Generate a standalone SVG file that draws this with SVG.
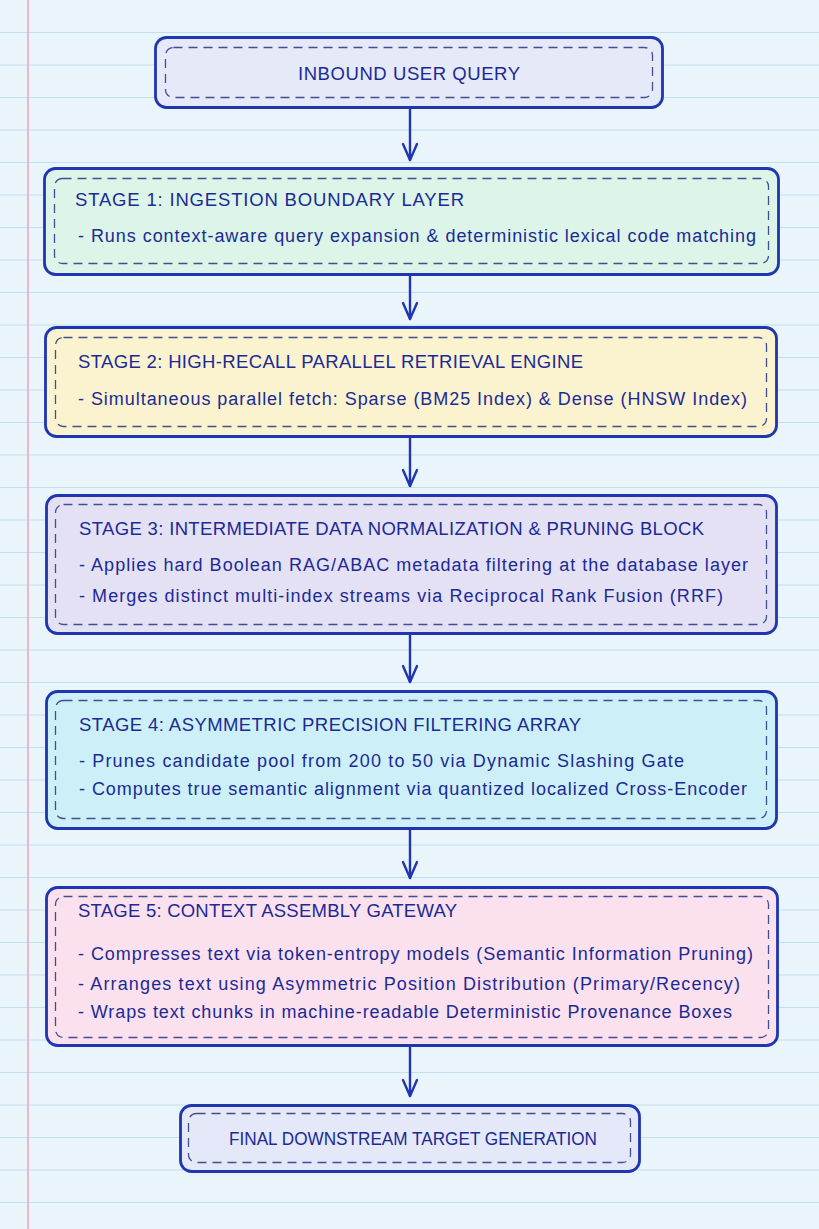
<svg xmlns="http://www.w3.org/2000/svg" width="819" height="1229" viewBox="0 0 819 1229">
<defs>
<style>
.bg{fill:#eaf4fb}
.rule{stroke:#bfe0ee;stroke-width:1.1}
.margin{stroke:#f2a6c4;stroke-width:1.6}
.outer{stroke:#1f36b0;stroke-width:2.8}
.inner{fill:none;stroke:#3f4f8f;stroke-width:1.3;stroke-dasharray:9 6}
.t{font-family:"Liberation Sans","DejaVu Sans",sans-serif;fill:#1b2a95}
.h{font-size:18.5px}
.b{font-size:18px}
.c{font-size:18.5px}
.f{font-size:17.5px}
.conn{stroke:#1f36b0;stroke-width:2.4;fill:none;stroke-linecap:round;stroke-linejoin:round}
</style>
<marker id="ah" viewBox="0 0 20 20" refX="18" refY="10" markerWidth="20" markerHeight="20" markerUnits="userSpaceOnUse" orient="auto">
<path d="M2 3 L18 10 L2 17" fill="none" stroke="#1f36b0" stroke-width="2.4" stroke-linecap="round" stroke-linejoin="round"/>
</marker>
</defs>
<rect class="bg" x="0" y="0" width="819" height="1229"/>
<g id="paper">
<line class="rule" x1="0" y1="32.5" x2="819" y2="32.5"/>
<line class="rule" x1="0" y1="65" x2="819" y2="65"/>
<line class="rule" x1="0" y1="97.5" x2="819" y2="97.5"/>
<line class="rule" x1="0" y1="130" x2="819" y2="130"/>
<line class="rule" x1="0" y1="162.5" x2="819" y2="162.5"/>
<line class="rule" x1="0" y1="195" x2="819" y2="195"/>
<line class="rule" x1="0" y1="227.5" x2="819" y2="227.5"/>
<line class="rule" x1="0" y1="260" x2="819" y2="260"/>
<line class="rule" x1="0" y1="292.5" x2="819" y2="292.5"/>
<line class="rule" x1="0" y1="325" x2="819" y2="325"/>
<line class="rule" x1="0" y1="357.5" x2="819" y2="357.5"/>
<line class="rule" x1="0" y1="390" x2="819" y2="390"/>
<line class="rule" x1="0" y1="422.5" x2="819" y2="422.5"/>
<line class="rule" x1="0" y1="455" x2="819" y2="455"/>
<line class="rule" x1="0" y1="487.5" x2="819" y2="487.5"/>
<line class="rule" x1="0" y1="520" x2="819" y2="520"/>
<line class="rule" x1="0" y1="552.5" x2="819" y2="552.5"/>
<line class="rule" x1="0" y1="585" x2="819" y2="585"/>
<line class="rule" x1="0" y1="617.5" x2="819" y2="617.5"/>
<line class="rule" x1="0" y1="650" x2="819" y2="650"/>
<line class="rule" x1="0" y1="682.5" x2="819" y2="682.5"/>
<line class="rule" x1="0" y1="715" x2="819" y2="715"/>
<line class="rule" x1="0" y1="747.5" x2="819" y2="747.5"/>
<line class="rule" x1="0" y1="780" x2="819" y2="780"/>
<line class="rule" x1="0" y1="812.5" x2="819" y2="812.5"/>
<line class="rule" x1="0" y1="845" x2="819" y2="845"/>
<line class="rule" x1="0" y1="877.5" x2="819" y2="877.5"/>
<line class="rule" x1="0" y1="910" x2="819" y2="910"/>
<line class="rule" x1="0" y1="942.5" x2="819" y2="942.5"/>
<line class="rule" x1="0" y1="975" x2="819" y2="975"/>
<line class="rule" x1="0" y1="1007.5" x2="819" y2="1007.5"/>
<line class="rule" x1="0" y1="1040" x2="819" y2="1040"/>
<line class="rule" x1="0" y1="1072.5" x2="819" y2="1072.5"/>
<line class="rule" x1="0" y1="1105" x2="819" y2="1105"/>
<line class="rule" x1="0" y1="1137.5" x2="819" y2="1137.5"/>
<line class="rule" x1="0" y1="1170" x2="819" y2="1170"/>
<line class="rule" x1="0" y1="1202.5" x2="819" y2="1202.5"/>
<line class="margin" x1="28" y1="0" x2="28" y2="1229"/>
</g>
<g id="connectors">
<line class="conn" x1="410" y1="108" x2="410" y2="160" marker-end="url(#ah)"/>
<line class="conn" x1="410" y1="275" x2="410" y2="319" marker-end="url(#ah)"/>
<line class="conn" x1="410" y1="437" x2="410" y2="486" marker-end="url(#ah)"/>
<line class="conn" x1="410" y1="634" x2="410" y2="682" marker-end="url(#ah)"/>
<line class="conn" x1="410" y1="829" x2="410" y2="878" marker-end="url(#ah)"/>
<line class="conn" x1="410" y1="1046" x2="410" y2="1096" marker-end="url(#ah)"/>
</g>
<g id="inbound">
<rect class="outer" x="155.5" y="37.5" width="507" height="70" rx="11" fill="#e5e9f8"/>
<rect class="inner" x="165.5" y="47.5" width="487" height="50" rx="8"/>
<text class="t c" x="298" y="80" textLength="222">INBOUND USER QUERY</text>
</g>
<g id="stage1">
<rect class="outer" x="44.5" y="168.5" width="734" height="106" rx="11" fill="#dcf5e8"/>
<rect class="inner" x="54.5" y="178.5" width="714" height="85" rx="8"/>
<text class="t h" x="75" y="206" textLength="389">STAGE 1: INGESTION BOUNDARY LAYER</text>
<text class="t b" x="78" y="242" textLength="678">- Runs context-aware query expansion &amp; deterministic lexical code matching</text>
</g>
<g id="stage2">
<rect class="outer" x="45.5" y="327.5" width="731" height="109" rx="11" fill="#fbf3cf"/>
<rect class="inner" x="55.5" y="337.5" width="711" height="89" rx="8"/>
<text class="t h" x="78" y="368" textLength="505">STAGE 2: HIGH-RECALL PARALLEL RETRIEVAL ENGINE</text>
<text class="t b" x="78" y="405" textLength="669">- Simultaneous parallel fetch: Sparse (BM25 Index) &amp; Dense (HNSW Index)</text>
</g>
<g id="stage3">
<rect class="outer" x="46.5" y="495.5" width="730" height="138" rx="11" fill="#e5e1f5"/>
<rect class="inner" x="55.5" y="504.5" width="711" height="120" rx="8"/>
<text class="t h" x="79" y="535" textLength="625">STAGE 3: INTERMEDIATE DATA NORMALIZATION &amp; PRUNING BLOCK</text>
<text class="t b" x="79" y="571" textLength="669">- Applies hard Boolean RAG/ABAC metadata filtering at the database layer</text>
<text class="t b" x="79" y="602" textLength="644">- Merges distinct multi-index streams via Reciprocal Rank Fusion (RRF)</text>
</g>
<g id="stage4">
<rect class="outer" x="46.5" y="691.5" width="730" height="137" rx="11" fill="#cdf0f8"/>
<rect class="inner" x="55.5" y="700.5" width="711" height="118" rx="8"/>
<text class="t h" x="79" y="731" textLength="502">STAGE 4: ASYMMETRIC PRECISION FILTERING ARRAY</text>
<text class="t b" x="79" y="767" textLength="605">- Prunes candidate pool from 200 to 50 via Dynamic Slashing Gate</text>
<text class="t b" x="79" y="795" textLength="668">- Computes true semantic alignment via quantized localized Cross-Encoder</text>
</g>
<g id="stage5">
<rect class="outer" x="46.5" y="887.5" width="731" height="158" rx="11" fill="#fbe1ee"/>
<rect class="inner" x="55.5" y="896.5" width="713" height="141" rx="8"/>
<text class="t h" x="78" y="917" textLength="379">STAGE 5: CONTEXT ASSEMBLY GATEWAY</text>
<text class="t b" x="78" y="960" textLength="675">- Compresses text via token-entropy models (Semantic Information Pruning)</text>
<text class="t b" x="78" y="990" textLength="662">- Arranges text using Asymmetric Position Distribution (Primary/Recency)</text>
<text class="t b" x="78" y="1018" textLength="654">- Wraps text chunks in machine-readable Deterministic Provenance Boxes</text>
</g>
<g id="final">
<rect class="outer" x="180.5" y="1105.5" width="459" height="66" rx="11" fill="#e4e8f8"/>
<rect class="inner" x="188.5" y="1113.5" width="442" height="49" rx="8"/>
<text class="t f" x="229" y="1145" textLength="368" lengthAdjust="spacingAndGlyphs">FINAL DOWNSTREAM TARGET GENERATION</text>
</g>
</svg>
